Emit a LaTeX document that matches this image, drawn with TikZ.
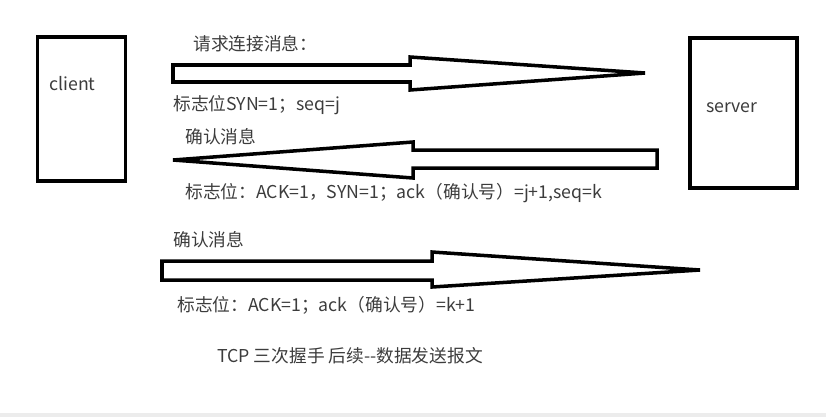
\documentclass[tikz,border=0pt]{standalone}
\usepackage{fontspec}
\setmainfont{Noto Sans CJK SC}
\definecolor{labelgray}{RGB}{60, 60, 60}
\definecolor{stripgray}{RGB}{236, 236, 236}
\usepackage{tikz}
\usetikzlibrary{positioning}

\tikzset{
  hostbox/.style={rectangle, draw=black, line width=2.5pt, fill=white},
  blockarrow/.style={draw=black, line width=2.5pt, fill=white, line join=miter},
  msg/.style={anchor=west, inner sep=0pt, text=labelgray, font=\fontsize{12.6}{15}\selectfont}
}

\begin{document}
\begin{tikzpicture}[x=0.025cm, y=-0.025cm]
    \useasboundingbox (0,0) rectangle (826,417);
    \fill[stripgray] (0,413) rectangle (826,417);

    % hosts
    \node[hostbox, minimum width=2.2cm, minimum height=3.6cm] (client) at (81.5,109) {};
    \node[hostbox, minimum width=2.675cm, minimum height=3.75cm] (server) at (743.5,113) {};
    \node[msg] (clientname) at (49,84) {client};
    \node[msg] (servername) at (706,108) {server};

    % SYN
    \draw[blockarrow] (173,65) -- (410,65) -- (410,57) -- (645,73) -- (410,90) -- (410,82) -- (173,82) -- cycle;
    \node[msg] (syntitle) at (193,44) {请求连接消息：};
    \node[msg] (synflags) at (173,105) {标志位SYN=1；seq=j};

    % SYN+ACK
    \draw[blockarrow] (657,150) -- (413,150) -- (413,142) -- (173,160) -- (413,178) -- (413,168) -- (657,168) -- cycle;
    \node[msg] (acktitle) at (185,137) {确认消息};
    \node[msg] (ackflags) at (185,193) {标志位：ACK=1，SYN=1；ack（确认号）=j+1,seq=k};

    % ACK
    \draw[blockarrow] (162,261) -- (432,261) -- (432,252) -- (700,270) -- (432,287) -- (432,280) -- (162,280) -- cycle;
    \node[msg] (lasttitle) at (173,240) {确认消息};
    \node[msg] (lastflags) at (177,305) {标志位：ACK=1；ack（确认号）=k+1};

    \node[msg] (caption) at (217,356) {TCP 三次握手 后续-{}-数据发送报文};
\end{tikzpicture}
\end{document}
